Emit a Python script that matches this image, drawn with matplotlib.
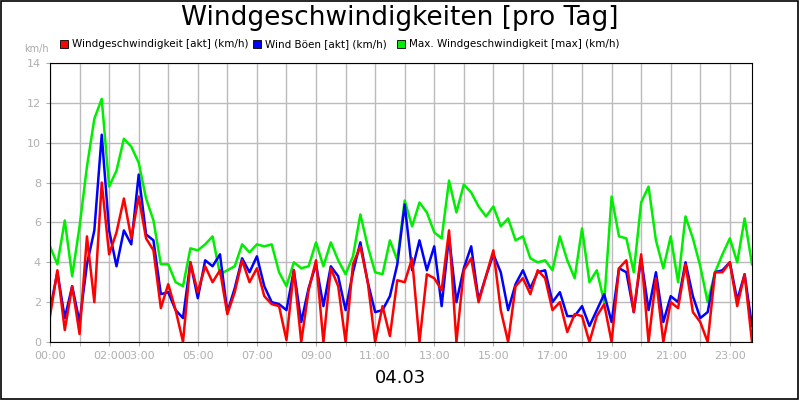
import matplotlib
matplotlib.use("Agg")
import matplotlib.pyplot as plt
import numpy as np

# 15-minute samples, 96 per series
max_wind = [4.8,3.9,6.1,3.3, 5.8,8.8,11.2,12.2, 7.8,8.6,10.2,9.8, 9.0,7.2,6.1,3.9,
            3.9,3.0,2.8,4.7, 4.6,4.9,5.3,3.4, 3.6,3.8,4.9,4.5, 4.9,4.8,4.9,3.5,
            2.8,4.0,3.7,3.8, 5.0,3.8,5.0,4.1, 3.4,4.3,6.4,4.8, 3.5,3.4,5.1,4.1,
            7.1,5.8,7.0,6.5, 5.5,5.2,8.1,6.5, 7.9,7.5,6.8,6.3, 6.8,5.8,6.2,5.1,
            5.3,4.2,4.0,4.1, 3.6,5.3,4.1,3.2, 5.7,3.0,3.6,2.0, 7.3,5.3,5.2,3.5,
            7.0,7.8,5.1,3.7, 5.3,3.0,6.3,5.2, 3.8,2.0,3.5,4.4, 5.2,4.0,6.2,3.9]
akt_wind = [1.3,3.6,0.6,2.8, 0.4,5.3,2.0,8.0, 4.4,5.5,7.2,5.2, 7.3,5.2,4.6,1.7,
            2.9,1.6,0.0,4.0, 2.5,3.8,3.0,3.6, 1.4,2.5,4.1,3.0, 3.7,2.3,1.9,1.8,
            0.1,3.6,0.0,2.6, 4.1,0.0,3.7,2.8, 0.0,3.9,4.8,3.0, 0.0,1.8,0.3,3.1,
            3.0,4.2,0.0,3.4, 3.2,2.6,5.6,0.0, 3.6,4.2,2.0,3.3, 4.6,1.6,0.0,2.8,
            3.2,2.4,3.6,3.2, 1.6,2.0,0.5,1.4, 1.3,0.0,1.3,1.9, 0.0,3.7,4.1,1.5,
            4.4,0.0,3.2,0.0, 2.0,1.7,3.9,1.5, 1.0,0.0,3.5,3.5, 4.0,1.8,3.4,0.0]
boeen_wind = [1.6,3.5,1.2,2.8, 1.0,3.9,5.6,10.4, 5.6,3.8,5.6,4.9, 8.4,5.4,5.1,2.4,
              2.5,1.6,1.2,4.0, 2.2,4.1,3.8,4.4, 1.5,2.7,4.2,3.5, 4.3,2.8,2.0,1.9,
              1.6,3.6,1.0,2.7, 3.9,1.8,3.8,3.3, 1.6,3.5,5.0,3.0, 1.5,1.6,2.3,3.9,
              6.9,3.6,5.1,3.6, 4.8,1.8,5.3,2.0, 3.7,4.8,2.1,3.3, 4.4,3.5,1.6,2.9,
              3.6,2.7,3.5,3.6, 2.0,2.5,1.3,1.3, 1.8,0.8,1.6,2.4, 1.0,3.7,3.5,1.5,
              4.2,1.6,3.5,1.0, 2.3,2.0,4.0,2.3, 1.2,1.5,3.5,3.6, 4.0,2.1,3.4,0.8]

hours = np.arange(len(max_wind)) * 0.25
tick_hours = [0, 2, 3, 5, 7, 9, 11, 13, 15, 17, 19, 21, 23]
tick_labels = ["00:00","02:00","03:00","05:00","07:00","09:00","11:00","13:00",
               "15:00","17:00","19:00","21:00","23:00"]

fig = plt.figure(figsize=(8, 4), dpi=100)
fig.patch.set_facecolor("white")
ax = fig.add_axes([50/800, 58/400, 702/800, 279/400])
ax.plot(hours, max_wind, color="#00ee00", lw=1.8)
ax.plot(hours, boeen_wind, color="#0000ff", lw=1.8)
ax.plot(hours, akt_wind, color="#ff0000", lw=1.8)
ax.set_xlim(0, 23.75)
ax.set_ylim(0, 14)
ax.set_yticks(range(0, 15, 2))
ax.set_xticks(tick_hours)
ax.set_xticklabels(tick_labels)
ax.set_xticks(range(0, 24), minor=True)
ax.grid(True, which="both", color="#bbbbbb", lw=1)
ax.set_axisbelow(True)
ax.tick_params(colors="#b0b0b0", labelsize=8, length=3)
ax.tick_params(which="minor", length=3, colors="#b0b0b0")
for s in ax.spines.values():
    s.set_color("black")

fig.text(0.5, 0.955, "Windgeschwindigkeiten [pro Tag]", ha="center", va="center", fontsize=19)
fig.text(0.03, 0.878, "km/h", fontsize=7, color="#aaaaaa", ha="left", va="center")
fig.text(0.5, 0.055, "04.03", ha="center", va="center", fontsize=13)
legend = [(60, "#ff0000", "Windgeschwindigkeit [akt] (km/h)"),
          (253, "#0000ff", "Wind Böen [akt] (km/h)"),
          (397, "#00ee00", "Max. Windgeschwindigkeit [max] (km/h)")]
for x, c, t in legend:
    fig.patches.append(plt.Rectangle((x/800, 1-48/400), 8/800, 8/400, transform=fig.transFigure,
                                     facecolor=c, edgecolor="black", lw=0.6))
    fig.text((x+12)/800, 1-44/400, t, fontsize=7.5, va="center", ha="left")
fig.patches.append(plt.Rectangle((0.001, 0.002), 0.997, 0.996, transform=fig.transFigure,
                                 fill=False, edgecolor="black", lw=1.2))
fig.savefig("out.png", dpi=100)
